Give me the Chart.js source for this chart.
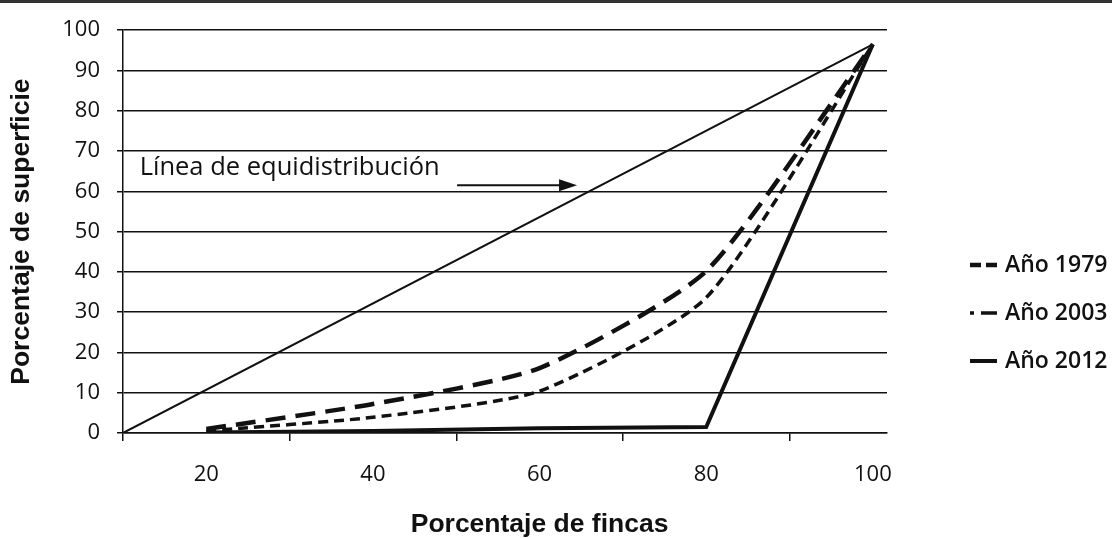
<!DOCTYPE html>
<html lang="es">
<head>
<meta charset="utf-8">
<script src="https://cdn.jsdelivr.net/npm/chart.js@4.4.1/dist/chart.umd.min.js"></script>
<style>
  html, body { margin: 0; background: #fff; }
  #wrap { width: 1112px; height: 539px; position: relative; }
</style>
</head>
<body>
<div id="wrap"><canvas id="lorenzChart"></canvas></div>
<script>
// Porcentaje de fincas (x) vs porcentaje de superficie (y)
const fincas = [20, 40, 60, 80, 100];
const sup1979 = [1.0, 7.2, 16.1, 40.2, 96.5];
const sup2003 = [0.5, 3.9, 10.4, 33.6, 96.5];
const sup2012 = [0.1, 0.5, 1.2, 1.5, 96.5];
const equiX = [10, 100];
const equiY = [0, 96.5];
const xTickValues = [10, 20, 30, 40, 50, 60, 70, 80, 90, 100];
const noteText = "Línea de equidistribución";
const xTitle = "Porcentaje de fincas";

const ink = "#111";
const toPoints = (xs, ys) => xs.map((v, i) => ({ x: v, y: ys[i] }));

const extras = {
    id: "extras",
    beforeDraw(chart) {
        const ctx = chart.ctx;
        ctx.save();
        ctx.fillStyle = "#333";
        ctx.fillRect(0, 0, chart.width, 3);
        ctx.restore();
    },
    afterDraw(chart) {
        const { ctx, scales: { x, y }, chartArea } = chart;
        ctx.save();
        ctx.fillStyle = ink;
        ctx.strokeStyle = ink;

        // x axis title (sits a bit right of the plot centre in the original)
        ctx.font = 'bold 26.5px "Liberation Sans"';
        ctx.textAlign = "center";
        ctx.textBaseline = "middle";
        ctx.fillText(xTitle, x.getPixelForValue(60), chartArea.bottom + 92);

        // annotation + arrow
        ctx.textAlign = "left";
        ctx.font = '25.5px "Open Sans"';
        ctx.textBaseline = "alphabetic";
        ctx.fillText(noteText, x.getPixelForValue(12), y.getPixelForValue(64));
        const ay = y.getPixelForValue(61.5);
        const ax0 = x.getPixelForValue(50.1);
        const ax1 = x.getPixelForValue(64.5);
        ctx.lineWidth = 2;
        ctx.beginPath();
        ctx.moveTo(ax0, ay);
        ctx.lineTo(ax1 - 14, ay);
        ctx.stroke();
        ctx.beginPath();
        ctx.moveTo(ax1, ay);
        ctx.lineTo(ax1 - 18, ay - 6);
        ctx.lineTo(ax1 - 18, ay + 6);
        ctx.closePath();
        ctx.fill();

        // legend
        const lx = chartArea.right + 83;
        ctx.font = '600 23px "Open Sans"';
        ctx.textBaseline = "middle";
        chart.data.datasets.forEach((ds, i) => {
            if (!ds.legendDash) return;
            const ly = 265 + 48 * i;
            ctx.lineWidth = ds.borderWidth;
            ctx.setLineDash(ds.legendDash);
            ctx.beginPath();
            ctx.moveTo(lx, ly);
            ctx.lineTo(lx + 27, ly);
            ctx.stroke();
            ctx.setLineDash([]);
            ctx.fillText(ds.label, lx + 35, ly);
        });
        ctx.restore();
    },
};

new Chart(document.getElementById("lorenzChart"), {
    type: "line",
    data: {
        datasets: [
            {
                label: "Año 1979",
                legendDash: [11, 5],
                data: toPoints(fincas, sup1979),
                borderColor: ink,
                borderWidth: 4.5,
                borderDash: [20, 10],
                tension: 0.2,
            },
            {
                label: "Año 2003",
                legendDash: [4, 7, 16, 0],
                data: toPoints(fincas, sup2003),
                borderColor: ink,
                borderWidth: 3.5,
                borderDash: [10, 6],
                tension: 0.2,
            },
            {
                label: "Año 2012",
                legendDash: [],
                data: toPoints(fincas, sup2012),
                borderColor: ink,
                borderWidth: 4,
                tension: 0,
            },
            {
                label: noteText,
                data: toPoints(equiX, equiY),
                borderColor: ink,
                borderWidth: 2,
                tension: 0,
            },
        ],
    },
    options: {
        responsive: true,
        maintainAspectRatio: false,
        animation: false,
        layout: {
            padding: { top: 23, right: 225, left: 0, bottom: 0 },
        },
        elements: {
            point: { radius: 0 },
            line: { borderCapStyle: "butt", borderJoinStyle: "miter" },
        },
        plugins: {
            legend: { display: false },
            tooltip: { enabled: false },
        },
        scales: {
            x: {
                type: "linear",
                min: 10,
                max: 101.7,
                afterBuildTicks: (axis) => {
                    axis.ticks = xTickValues.map((v) => ({ value: v }));
                },
                afterFit: (axis) => {
                    axis.height = 106;
                },
                grid: {
                    drawOnChartArea: false,
                    tickLength: 8,
                    lineWidth: 1.5,
                    color: (c) => (c.tick && c.tick.value % 20 === 10 ? ink : "rgba(0,0,0,0)"),
                },
                border: { display: true, color: ink, width: 1.5 },
                ticks: {
                    autoSkip: false,
                    maxRotation: 0,
                    padding: 21,
                    color: ink,
                    font: { family: "Open Sans", size: 22 },
                    callback: (v) => (fincas.includes(v) ? String(v) : ""),
                },
            },
            y: {
                min: 0,
                max: 100,
                afterFit: (axis) => {
                    axis.width = 123;
                },
                grid: {
                    color: ink,
                    lineWidth: 1.5,
                    tickLength: 6,
                },
                border: { display: true, color: ink, width: 1.5 },
                ticks: {
                    stepSize: 10,
                    padding: 17,
                    color: ink,
                    font: { family: "Open Sans", size: 22 },
                },
                title: {
                    display: true,
                    text: "Porcentaje de superficie",
                    color: ink,
                    font: { family: "Liberation Sans", size: 26.5, weight: "bold" },
                    padding: { top: 6, bottom: 0 },
                },
            },
        },
    },
    plugins: [extras],
});
</script>
</body>
</html>
